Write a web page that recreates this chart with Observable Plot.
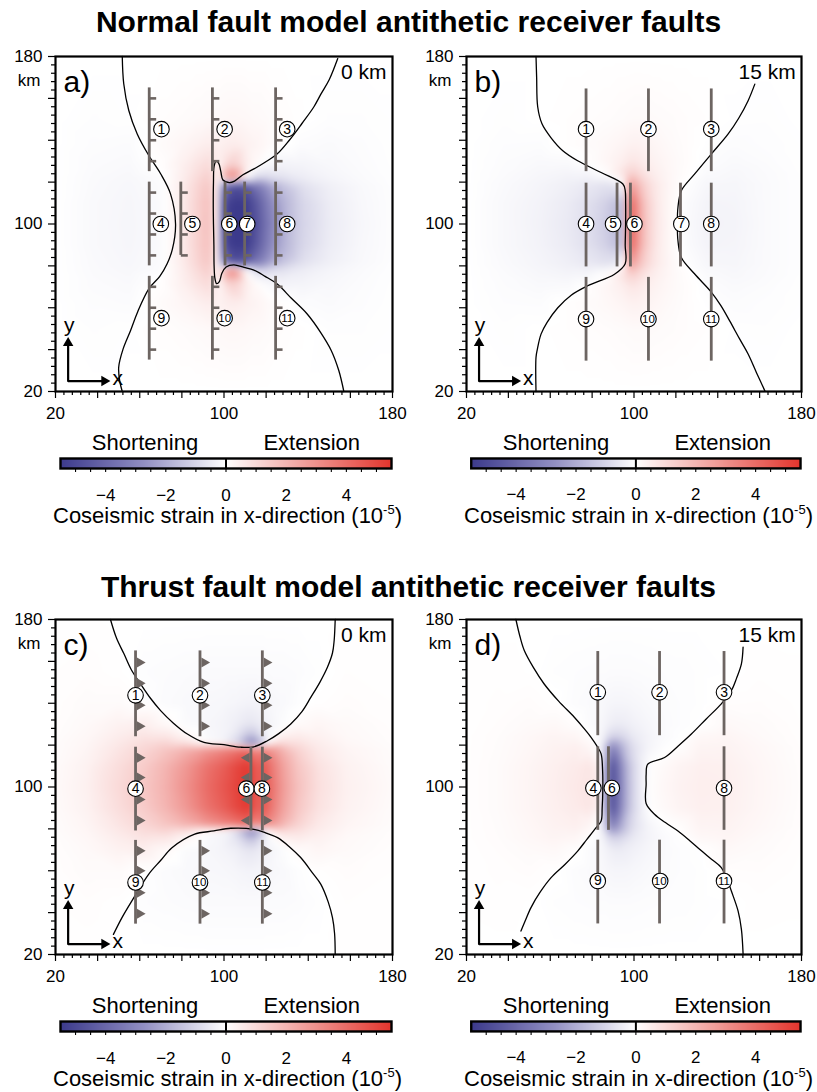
<!DOCTYPE html>
<html>
<head>
<meta charset="utf-8">
<script src="https://cdn.jsdelivr.net/npm/d3@7"></script>
<script src="https://cdn.jsdelivr.net/npm/@observablehq/plot@0.6"></script>
<style>
  html, body { margin: 0; padding: 0; background: #fff; }
  #page { position: relative; width: 817px; height: 1092px; overflow: hidden;
          font-family: "Liberation Sans", Arial, sans-serif; color: #000; }
  .abs { position: absolute; }
  .title { left: 0; width: 817px; text-align: center; font-weight: bold; font-size: 30px; line-height: 30px; }
  .lbl { font-size: 22px; line-height: 22px; white-space: nowrap; transform: translateX(-50%); }
  .lbl sup { font-size: 13px; line-height: 0; vertical-align: 9px; }
</style>
</head>
<body>
<div id="page"></div>
<script>
// ---------- shared axis / legend values ----------
const axisTickLabels = [20, 100, 180];
const colorbarTickLabels = [-4, -2, 0, 2, 4];
const strainDomain = [-5.5, 5.5];

// fault-symbol positions along each row of receiver faults (km)
const teethTop = [160, 150, 140, 130];
const teethMid = [115, 105, 95, 85];
const teethBot = [70, 60, 50, 40];
const thrustTop = [159.5, 149.5, 139, 129];
const thrustMid = [114, 104.5, 94, 84];
const thrustBot = [69.5, 60, 49.5, 39.5];

// ---------- a) normal fault, 0 km ----------
const xsA = [20, 38, 55, 70, 80, 87, 92, 95.5, 97.5, 99.5, 104, 110, 115, 121, 128, 137, 150, 165, 180];
const ysA = [180, 150, 138, 128, 122, 118, 110, 100, 90, 82, 78, 72, 62, 50, 20];
const strainA = [
  [0, 0, 0, 0, 0, 0, 0, 0, 0, 0, 0, 0, 0, 0, 0, 0, 0, 0, 0],
  [0, -0.04, -0.02, 0.06, 0.1, 0.14, 0.17, 0.18, 0.18, 0.2, 0.22, 0.2, 0.16, 0.12, 0.07, 0.02, -0.04, -0.04, -0.02],
  [0, -0.07, -0.09, 0.12, 0.25, 0.38, 0.48, 0.45, 0.3, 0.45, 0.5, 0.4, 0.3, 0.16, 0.05, -0.08, -0.12, -0.07, -0.02],
  [0, -0.1, -0.14, 0.03, 0.4, 0.75, 1.0, 0.7, 0, 0.8, 1.4, 0.6, 0.15, -0.2, -0.32, -0.28, -0.18, -0.09, -0.03],
  [0, -0.12, -0.18, -0.08, 0.45, 0.95, 1.35, 0.85, 0, 1.8, 3.6, 0.4, -0.9, -0.9, -0.7, -0.45, -0.25, -0.12, -0.04],
  [0, -0.13, -0.2, -0.1, 0.5, 1.1, 1.55, 0.95, 0, -3.4, -4.9, -4.6, -3.6, -2.5, -1.5, -0.8, -0.38, -0.16, -0.05],
  [0, -0.15, -0.22, -0.12, 0.5, 1.2, 1.7, 1.05, 0, -4.8, -5.5, -5.5, -4.6, -3.2, -1.9, -1.0, -0.45, -0.18, -0.06],
  [0, -0.15, -0.23, -0.12, 0.5, 1.2, 1.75, 1.05, 0, -5.0, -5.5, -5.5, -4.8, -3.4, -2.0, -1.05, -0.48, -0.2, -0.06],
  [0, -0.15, -0.22, -0.12, 0.5, 1.2, 1.7, 1.05, 0, -4.8, -5.5, -5.5, -4.6, -3.2, -1.9, -1.0, -0.45, -0.18, -0.06],
  [0, -0.13, -0.2, -0.1, 0.5, 1.1, 1.55, 0.95, 0, -3.4, -4.9, -4.6, -3.6, -2.5, -1.5, -0.8, -0.38, -0.16, -0.05],
  [0, -0.12, -0.18, -0.08, 0.45, 0.95, 1.35, 0.85, 0, 1.8, 3.6, 0.4, -0.9, -0.9, -0.7, -0.45, -0.25, -0.12, -0.04],
  [0, -0.1, -0.14, 0.03, 0.4, 0.75, 1.0, 0.7, 0, 0.8, 1.4, 0.6, 0.15, -0.2, -0.32, -0.28, -0.18, -0.09, -0.03],
  [0, -0.07, -0.09, 0.12, 0.25, 0.38, 0.48, 0.45, 0.3, 0.45, 0.5, 0.4, 0.3, 0.16, 0.05, -0.08, -0.12, -0.07, -0.02],
  [0, -0.04, -0.02, 0.06, 0.1, 0.14, 0.17, 0.18, 0.18, 0.2, 0.22, 0.2, 0.16, 0.12, 0.07, 0.02, -0.04, -0.04, -0.02],
  [0, 0, 0, 0, 0, 0, 0, 0, 0, 0, 0, 0, 0, 0, 0, 0, 0, 0, 0]
];
const zeroLineA1 = [[51.7,180],[52.4,167],[54.8,154.2],[58.8,143],[64.3,132.7],[69.9,124],[74.6,114.4],[77,100],[75.5,88],[73,81],[69.5,75],[64.3,69],[59,58],[55.6,49],[52,40],[50,31.6],[50.5,25],[51.7,20]];
const zeroLineA2 = [[154,179],[150,169],[146,162],[142.7,156],[137,148],[131,140],[125.3,133.5],[119.5,129.5],[114.2,126.3],[109,123.5],[105,120.5],[102.5,119.8],[99.5,121],[98.5,125],[97.5,129],[96.3,130],[95.3,127.5],[95,120],[94.9,110],[95,100],[95.2,90],[95.3,80],[95.7,74],[96.5,71.5],[97.8,72.5],[99,76.5],[101,79.5],[104.7,80.5],[109.5,79.3],[114.2,78],[119.5,75],[125.3,71.3],[132,64.5],[139.5,57],[146,48],[150.9,39.6],[154.5,30],[156.9,20]];
const faultsA = [
  {x: 64.5, y1: 125, y2: 165, teeth: teethTop}, {x: 94.5, y1: 125, y2: 165, teeth: teethTop}, {x: 124.5, y1: 125, y2: 165, teeth: teethTop},
  {x: 64.5, y1: 80, y2: 120, teeth: teethMid}, {x: 79.5, y1: 85, y2: 120, teeth: teethMid}, {x: 100.5, y1: 80, y2: 120, teeth: teethMid},
  {x: 109.8, y1: 80, y2: 120, teeth: teethMid}, {x: 124.5, y1: 80, y2: 120, teeth: teethMid},
  {x: 64.5, y1: 35, y2: 75, teeth: teethBot}, {x: 94.5, y1: 35, y2: 75, teeth: teethBot}, {x: 124.5, y1: 35, y2: 75, teeth: teethBot}
];
const labelsA = [
  {n: 1, x: 70.3, y: 145.3}, {n: 2, x: 100.3, y: 145.3}, {n: 3, x: 130, y: 145.3},
  {n: 4, x: 70, y: 100}, {n: 5, x: 85, y: 100}, {n: 6, x: 102.5, y: 100}, {n: 7, x: 111, y: 100}, {n: 8, x: 130, y: 100},
  {n: 9, x: 70.3, y: 55}, {n: 10, x: 100.3, y: 55}, {n: 11, x: 130, y: 55}
];

// ---------- b) normal fault, 15 km ----------
const xsB = [20, 38, 55, 68, 78, 86, 91, 95.2, 96.8, 98.5, 100.5, 103, 107, 112, 118, 125, 135, 148, 165, 180];
const ysB = [180, 150, 138, 130, 124, 119, 110, 100, 90, 81, 76, 70, 62, 50, 20];
const strainB = [
  [0, 0, 0, 0, 0, 0, 0, 0, 0, 0, 0, 0, 0, 0, 0, 0, 0, 0, 0, 0],
  [0, -0.03, 0, 0.04, 0.06, 0.08, 0.1, 0.12, 0.13, 0.14, 0.15, 0.15, 0.14, 0.12, 0.1, 0.07, 0.04, -0.02, -0.03, 0],
  [0, -0.06, -0.07, 0.04, 0.12, 0.18, 0.24, 0.3, 0.33, 0.36, 0.38, 0.36, 0.3, 0.22, 0.14, 0.07, -0.02, -0.08, -0.05, -0.02],
  [0, -0.08, -0.14, -0.12, 0.05, 0.22, 0.35, 0.48, 0.58, 0.66, 0.66, 0.56, 0.42, 0.3, 0.18, 0.08, -0.06, -0.13, -0.07, -0.02],
  [0, -0.1, -0.2, -0.26, -0.24, 0.03, 0.45, 0.85, 1.1, 1.3, 1.2, 0.95, 0.62, 0.38, 0.2, 0.05, -0.12, -0.18, -0.1, -0.03],
  [0, -0.13, -0.25, -0.38, -0.55, -0.7, -0.65, 0.1, 2.0, 2.7, 2.3, 1.6, 0.95, 0.48, 0.2, -0.02, -0.2, -0.22, -0.11, -0.03],
  [0, -0.16, -0.3, -0.48, -0.75, -1.1, -1.5, -1.65, 3.0, 4.3, 3.5, 2.2, 1.15, 0.5, 0.15, -0.1, -0.27, -0.25, -0.11, -0.03],
  [0, -0.16, -0.32, -0.52, -0.8, -1.2, -1.6, -1.8, 3.2, 4.6, 3.7, 2.3, 1.2, 0.52, 0.15, -0.12, -0.3, -0.27, -0.11, -0.03],
  [0, -0.16, -0.3, -0.48, -0.75, -1.1, -1.5, -1.65, 3.0, 4.3, 3.5, 2.2, 1.15, 0.5, 0.15, -0.1, -0.27, -0.25, -0.11, -0.03],
  [0, -0.13, -0.25, -0.38, -0.55, -0.7, -0.65, 0.1, 2.0, 2.7, 2.3, 1.6, 0.95, 0.48, 0.2, -0.02, -0.2, -0.22, -0.11, -0.03],
  [0, -0.1, -0.2, -0.26, -0.24, 0.03, 0.45, 0.85, 1.1, 1.3, 1.2, 0.95, 0.62, 0.38, 0.2, 0.05, -0.12, -0.18, -0.1, -0.03],
  [0, -0.08, -0.14, -0.12, 0.05, 0.22, 0.35, 0.48, 0.58, 0.66, 0.66, 0.56, 0.42, 0.3, 0.18, 0.08, -0.06, -0.13, -0.07, -0.02],
  [0, -0.06, -0.07, 0.04, 0.12, 0.18, 0.24, 0.3, 0.33, 0.36, 0.38, 0.36, 0.3, 0.22, 0.14, 0.07, -0.02, -0.08, -0.05, -0.02],
  [0, -0.03, 0, 0.04, 0.06, 0.08, 0.1, 0.12, 0.13, 0.14, 0.15, 0.15, 0.14, 0.12, 0.1, 0.07, 0.04, -0.02, -0.03, 0],
  [0, 0, 0, 0, 0, 0, 0, 0, 0, 0, 0, 0, 0, 0, 0, 0, 0, 0, 0, 0]
];
const zeroLineB1 = [[53.2,180],[53.5,170],[54,156],[56,148],[60.3,141.3],[66,135],[73.1,130.2],[84.3,124.6],[94.7,119.1],[95.8,116],[96,110],[96,100],[95.8,90],[95.8,81],[90.7,76],[77.9,70.5],[70,66],[63.6,60],[58.5,53],[55.6,47.4],[53.8,40],[53.2,36.3],[53.2,20]];
const zeroLineB2 = [[157.7,166.8],[154.5,158.9],[150,150.5],[144.9,142.9],[136.9,133.4],[129,123.9],[122.6,115.9],[121,108],[120.7,100],[121,92],[122.6,84],[129,76.1],[136.9,67.5],[141.5,61],[145.7,53.7],[150.5,45],[154.5,37.9],[158.5,29],[162.5,20.3]];
const faultsB = [
  {x: 77.1, y1: 125, y2: 164.5, teeth: []}, {x: 106.9, y1: 125, y2: 164.5, teeth: []}, {x: 136.9, y1: 125, y2: 164.5, teeth: []},
  {x: 77.1, y1: 79.5, y2: 119.5, teeth: []}, {x: 91.9, y1: 79.5, y2: 119.5, teeth: []}, {x: 98.3, y1: 79.5, y2: 119.5, teeth: []},
  {x: 122.2, y1: 79.5, y2: 119.5, teeth: []}, {x: 136.9, y1: 79.5, y2: 119.5, teeth: []},
  {x: 77.1, y1: 34.5, y2: 74.5, teeth: []}, {x: 106.9, y1: 34.5, y2: 74.5, teeth: []}, {x: 136.9, y1: 34.5, y2: 74.5, teeth: []}
];
const labelsB = [
  {n: 1, x: 77.1, y: 145.3}, {n: 2, x: 106.9, y: 145.3}, {n: 3, x: 136.9, y: 145.3},
  {n: 4, x: 77.1, y: 100}, {n: 5, x: 90, y: 100}, {n: 6, x: 100.2, y: 100}, {n: 7, x: 122.6, y: 100}, {n: 8, x: 136.9, y: 100},
  {n: 9, x: 77.1, y: 54.6}, {n: 10, x: 106.9, y: 54.6}, {n: 11, x: 136.9, y: 54.6}
];

// ---------- c) thrust fault, 0 km ----------
const xsC = [20, 35, 50, 62, 72, 82, 92, 100, 106, 110, 112.5, 115.5, 118.5, 122, 128, 135, 145, 158, 180];
const ysC = [180, 155, 140, 130, 124, 121, 118, 110, 100, 90, 82, 79, 76, 70, 60, 45, 20];
const strainC = [
  [0.03, 0.02, 0, 0, 0, 0, 0, 0, 0, 0, 0, 0, 0, 0, 0, 0, 0, 0.02, 0.03],
  [0.04, 0.06, 0.02, -0.06, -0.08, -0.1, -0.12, -0.12, -0.12, -0.12, -0.12, -0.12, -0.12, -0.1, -0.1, -0.08, -0.03, 0.04, 0.03],
  [0.05, 0.12, 0.12, -0.03, -0.1, -0.15, -0.18, -0.2, -0.24, -0.28, -0.3, -0.28, -0.24, -0.2, -0.15, -0.05, 0.03, 0.08, 0.04],
  [0.06, 0.17, 0.35, 0.45, 0.15, -0.12, -0.2, -0.28, -0.4, -0.55, -0.62, -0.55, -0.4, -0.25, -0.08, 0.12, 0.25, 0.15, 0.05],
  [0.08, 0.22, 0.5, 0.75, 0.7, 0.25, -0.15, -0.28, -0.65, -1.2, -1.7, -1.3, -0.7, -0.1, 0.45, 0.55, 0.38, 0.18, 0.07],
  [0.1, 0.25, 0.6, 0.95, 1.15, 0.8, -0.05, -0.25, -1.1, -2.4, -3.6, -3.0, -1.5, 0.3, 1.0, 0.85, 0.48, 0.22, 0.08],
  [0.1, 0.28, 0.7, 1.1, 1.55, 2.1, 2.8, 3.3, 3.7, 4.0, 3.8, 3.0, 3.6, 2.9, 2.0, 1.2, 0.58, 0.28, 0.1],
  [0.13, 0.36, 0.9, 1.4, 2.0, 2.8, 3.8, 4.4, 5.0, 5.3, 5.4, 4.1, 4.7, 3.8, 2.55, 1.55, 0.78, 0.36, 0.12],
  [0.15, 0.4, 1.0, 1.5, 2.1, 3.0, 4.0, 4.6, 5.1, 5.4, 5.5, 4.2, 4.8, 4.0, 2.7, 1.7, 0.85, 0.4, 0.15],
  [0.13, 0.36, 0.9, 1.4, 2.0, 2.8, 3.8, 4.4, 5.0, 5.3, 5.4, 4.1, 4.7, 3.8, 2.55, 1.55, 0.78, 0.36, 0.12],
  [0.1, 0.28, 0.7, 1.1, 1.55, 2.1, 2.8, 3.3, 3.7, 4.0, 3.8, 3.0, 3.6, 2.9, 2.0, 1.2, 0.58, 0.28, 0.1],
  [0.1, 0.25, 0.6, 0.95, 1.15, 0.8, -0.05, -0.25, -1.1, -2.4, -3.6, -3.0, -1.5, 0.3, 1.0, 0.85, 0.48, 0.22, 0.08],
  [0.08, 0.22, 0.5, 0.75, 0.7, 0.25, -0.15, -0.28, -0.65, -1.2, -1.7, -1.3, -0.7, -0.1, 0.45, 0.55, 0.38, 0.18, 0.07],
  [0.06, 0.17, 0.35, 0.45, 0.15, -0.12, -0.2, -0.28, -0.4, -0.55, -0.62, -0.55, -0.4, -0.25, -0.08, 0.12, 0.25, 0.15, 0.05],
  [0.05, 0.12, 0.12, -0.03, -0.1, -0.15, -0.18, -0.2, -0.24, -0.28, -0.3, -0.28, -0.24, -0.2, -0.15, -0.05, 0.03, 0.08, 0.04],
  [0.04, 0.06, 0.02, -0.06, -0.08, -0.1, -0.12, -0.12, -0.12, -0.12, -0.12, -0.12, -0.12, -0.1, -0.1, -0.08, -0.03, 0.04, 0.03],
  [0.03, 0.02, 0, 0, 0, 0, 0, 0, 0, 0, 0, 0, 0, 0, 0, 0, 0, 0.02, 0.03]
];
const zeroLineC1 = [[46.1,180],[49,171],[52.5,163.6],[56,156],[60.4,149.2],[65,142.5],[69.9,136.5],[76,130.5],[82.6,125.3],[90.5,121.3],[100,120.2],[107.9,119],[114.2,119.2],[120.6,122.1],[126,125.5],[131.7,130.1],[137,136],[141.2,142.8],[145.5,150],[149.1,157.2],[151.5,164],[152.3,170],[152.8,180]];
const zeroLineC2 = [[47.5,29.6],[51.5,37.5],[56.2,45.5],[64.2,58.3],[70,65],[75.3,71],[85.8,77.4],[95.2,79],[103.2,80.3],[114.2,79.8],[120,78],[125.4,75.8],[131,71.5],[136.4,66.3],[142,59],[146,53.5],[149.5,45],[151.5,37.6],[152.5,30],[152.8,20]];
const faultsC = [
  {x: 58, y1: 124, y2: 165, teeth: thrustTop, side: 1}, {x: 88.6, y1: 124, y2: 165, teeth: thrustTop, side: 1}, {x: 118.2, y1: 124, y2: 165, teeth: thrustTop, side: 1},
  {x: 58, y1: 79, y2: 119, teeth: thrustMid, side: 1}, {x: 112.8, y1: 79, y2: 119, teeth: thrustMid, side: -1}, {x: 118.2, y1: 79, y2: 119, teeth: thrustMid, side: 1},
  {x: 58, y1: 34.5, y2: 74.5, teeth: thrustBot, side: 1}, {x: 88.6, y1: 34.5, y2: 74.5, teeth: thrustBot, side: 1}, {x: 118.2, y1: 34.5, y2: 74.5, teeth: thrustBot, side: 1}
];
const labelsC = [
  {n: 1, x: 58, y: 143.8}, {n: 2, x: 88.6, y: 143.8}, {n: 3, x: 118.2, y: 143.8},
  {n: 4, x: 58, y: 99.2}, {n: 6, x: 110.6, y: 99.2}, {n: 8, x: 118, y: 99.2},
  {n: 9, x: 58, y: 54.4}, {n: 10, x: 88.6, y: 54.4}, {n: 11, x: 118.2, y: 54.4}
];

// ---------- d) thrust fault, 15 km ----------
const xsD = [20, 35, 50, 62, 72, 79, 84, 86.5, 88.5, 91, 94, 98, 103, 108, 114, 122, 132, 145, 160, 180];
const ysD = [180, 155, 140, 130, 124, 119, 110, 100, 90, 81, 76, 70, 60, 45, 20];
const strainD = [
  [0, 0, 0, 0, 0, 0, 0, 0, 0, 0, 0, 0, 0, 0, 0, 0, 0, 0, 0, 0],
  [0.02, 0.03, 0.01, -0.04, -0.06, -0.07, -0.08, -0.08, -0.09, -0.09, -0.09, -0.09, -0.08, -0.07, -0.06, -0.05, -0.03, -0.01, 0.03, 0.02],
  [0.02, 0.05, 0.08, 0.02, -0.08, -0.12, -0.16, -0.2, -0.22, -0.24, -0.24, -0.22, -0.18, -0.14, -0.1, -0.06, -0.03, 0.06, 0.07, 0.03],
  [0.02, 0.07, 0.14, 0.18, 0.05, -0.1, -0.18, -0.28, -0.4, -0.45, -0.45, -0.38, -0.28, -0.2, -0.12, -0.06, -0.01, 0.18, 0.12, 0.04],
  [0.03, 0.09, 0.2, 0.3, 0.25, 0.02, -0.2, -0.55, -1.0, -1.1, -0.95, -0.65, -0.4, -0.25, -0.12, -0.02, 0.2, 0.27, 0.15, 0.05],
  [0.03, 0.1, 0.22, 0.35, 0.42, 0.25, -0.25, -1.4, -3.0, -2.8, -1.9, -1.0, -0.5, -0.22, -0.06, 0.05, 0.3, 0.32, 0.2, 0.06],
  [0.03, 0.12, 0.27, 0.42, 0.55, 0.68, 0.35, -2.2, -4.7, -4.4, -2.8, -1.35, -0.45, 0.03, 0.15, 0.3, 0.42, 0.4, 0.24, 0.07],
  [0.03, 0.12, 0.28, 0.45, 0.6, 0.72, 0.4, -2.3, -4.9, -4.6, -2.9, -1.4, -0.42, 0.05, 0.2, 0.35, 0.45, 0.42, 0.25, 0.08],
  [0.03, 0.12, 0.27, 0.42, 0.55, 0.68, 0.35, -2.2, -4.7, -4.4, -2.8, -1.35, -0.45, 0.03, 0.15, 0.3, 0.42, 0.4, 0.24, 0.07],
  [0.03, 0.1, 0.22, 0.35, 0.42, 0.25, -0.25, -1.4, -3.0, -2.8, -1.9, -1.0, -0.5, -0.22, -0.06, 0.05, 0.3, 0.32, 0.2, 0.06],
  [0.03, 0.09, 0.2, 0.3, 0.25, 0.02, -0.2, -0.55, -1.0, -1.1, -0.95, -0.65, -0.4, -0.25, -0.12, -0.02, 0.2, 0.27, 0.15, 0.05],
  [0.02, 0.07, 0.14, 0.18, 0.05, -0.1, -0.18, -0.28, -0.4, -0.45, -0.45, -0.38, -0.28, -0.2, -0.12, -0.06, -0.01, 0.18, 0.12, 0.04],
  [0.02, 0.05, 0.08, 0.02, -0.08, -0.12, -0.16, -0.2, -0.22, -0.24, -0.24, -0.22, -0.18, -0.14, -0.1, -0.06, -0.03, 0.06, 0.07, 0.03],
  [0.02, 0.03, 0.01, -0.04, -0.06, -0.07, -0.08, -0.08, -0.09, -0.09, -0.09, -0.09, -0.08, -0.07, -0.06, -0.05, -0.03, -0.01, 0.03, 0.02],
  [0, 0, 0, 0, 0, 0, 0, 0, 0, 0, 0, 0, 0, 0, 0, 0, 0, 0, 0, 0]
];
const zeroLineD1 = [[43.6,180],[45.5,172],[47.6,165.2],[52,157],[57.1,149.2],[64,141],[71.5,133.3],[76.5,127.5],[79.5,123.7],[82.7,118.9],[84.3,115.8],[85,108],[85.1,98.1],[84.8,90],[84.3,83.8],[81.9,80.6],[77.5,75],[73.1,69.4],[67,63],[60.4,56.7],[55,49.5],[50.8,42.4],[48,36],[46,31.2]];
const zeroLineD2 = [[152.1,166.8],[151.3,158.8],[149,152],[146.5,146],[141.7,139.7],[134.5,132.5],[127.4,125.3],[121,119.5],[114.6,114.1],[106.6,110.9],[105.8,106],[105.8,101.4],[105.8,92.1],[109.8,87],[115,83],[121,79],[126.5,74.5],[132.2,69.5],[137,65.5],[141.7,61.5],[144.5,56],[146.5,50.3],[149.7,40.8],[151.3,32],[152.1,20.3]];
const faultsD = [
  {x: 82.7, y1: 124.5, y2: 164.7, teeth: []}, {x: 112.2, y1: 124.5, y2: 164.7, teeth: []}, {x: 143, y1: 124.5, y2: 164.7, teeth: []},
  {x: 82.7, y1: 79.3, y2: 119.2, teeth: []}, {x: 87.8, y1: 79.3, y2: 119.2, teeth: []}, {x: 143, y1: 79.3, y2: 119.2, teeth: []},
  {x: 82.7, y1: 34.6, y2: 74.6, teeth: []}, {x: 112.2, y1: 34.6, y2: 74.6, teeth: []}, {x: 143, y1: 34.6, y2: 74.6, teeth: []}
];
const labelsD = [
  {n: 1, x: 82.7, y: 145.2}, {n: 2, x: 112.2, y: 145.2}, {n: 3, x: 143, y: 145.2},
  {n: 4, x: 80.6, y: 99.5}, {n: 6, x: 89.4, y: 99.5}, {n: 8, x: 143, y: 99.5},
  {n: 9, x: 82.7, y: 55.1}, {n: 10, x: 112.5, y: 55.1}, {n: 11, x: 143, y: 55.1}
];

// ---------- styling ----------
const faultColor = "#6d6562";
const colorScale = {
  type: "linear",
  domain: [-5.5, -2.75, 0, 2.75, 5.5],
  range: ["#3c3a8c", "#918ec2", "#ffffff", "#f09a96", "#e3352d"],
  clamp: true
};
const fontFamily = '"Liberation Sans", Arial, sans-serif';
const page = document.getElementById("page");

function place(node, left, top) {
  const d = document.createElement("div");
  d.className = "abs";
  d.style.left = left + "px";
  d.style.top = top + "px";
  d.appendChild(node);
  page.appendChild(d);
}
function htmlText(cls, left, top, inner) {
  const d = document.createElement("div");
  d.className = "abs " + cls;
  d.style.left = left + "px";
  d.style.top = top + "px";
  d.innerHTML = inner;
  page.appendChild(d);
}

const majorTicks = d3.range(20, 181, 20);
const minorTicks = d3.range(20, 181, 4).filter(v => (v - 20) % 20 !== 0);

function panel(p) {
  const field = p.ys.flatMap((y, i) => p.xs.map((x, j) => ({x, y, v: p.grid[i][j]})));
  const teeth = p.faults.flatMap(f => f.teeth.map(y => ({x: f.x, y, side: f.side ?? 1})));
  const marks = [
    Plot.raster(field, {x: "x", y: "y", fill: "v", x1: 20, x2: 180, y1: 20, y2: 180,
                        interpolate: "barycentric", blur: 3}),
    ...p.curves.map(c => Plot.line(c, {x: d => d[0], y: d => d[1], stroke: "black",
                                       strokeWidth: 1.3, curve: "catmull-rom"})),
    Plot.ruleX(p.faults, {x: "x", y1: "y1", y2: "y2", stroke: faultColor, strokeWidth: 2.8})
  ];
  if (p.kind === "normal") {
    marks.push(Plot.link(teeth, {x1: "x", y1: "y", x2: d => d.x + 3.3, y2: "y",
                                 stroke: faultColor, strokeWidth: 2.6}));
  } else {
    marks.push(Plot.dot(teeth.filter(t => t.side > 0), {x: "x", y: "y", symbol: "triangle2", r: 4.8,
                                                       fill: faultColor, rotate: 90, dx: 4.3}));
    marks.push(Plot.dot(teeth.filter(t => t.side < 0), {x: "x", y: "y", symbol: "triangle2", r: 4.8,
                                                       fill: faultColor, rotate: -90, dx: -4.3}));
  }
  marks.push(
    Plot.dot(p.labels, {x: "x", y: "y", r: 7.8, fill: "white", stroke: "black", strokeWidth: 1.1}),
    Plot.text(p.labels, {x: "x", y: "y", text: d => String(d.n), fill: "black",
                         fontSize: d => d.n >= 10 ? 11.5 : 14}),
    // panel letter and depth
    Plot.text([p.tag], {x: 23.8, y: 167.5, text: d => d, textAnchor: "start", fontSize: 30}),
    Plot.text([p.depth], {x: 177.2, y: 172.3, text: d => d, textAnchor: "end", fontSize: 21}),
    // coordinate arrows
    Plot.line([[26, 42.5], [26, 25], [42.5, 25]], {x: d => d[0], y: d => d[1], stroke: "black", strokeWidth: 2.2}),
    Plot.dot([[26, 43.2]], {x: d => d[0], y: d => d[1], symbol: "triangle2", r: 5, fill: "black"}),
    Plot.dot([[43.2, 25]], {x: d => d[0], y: d => d[1], symbol: "triangle2", r: 5, fill: "black", rotate: 90}),
    Plot.text(["y"], {x: 26.5, y: 51.5, text: d => d, fontSize: 21}),
    Plot.text(["x"], {x: 49.5, y: 26.3, text: d => d, fontSize: 21}),
    // axes
    Plot.axisX({ticks: majorTicks, tickSize: 7, tickPadding: 8, strokeWidth: 1.2, label: null, fontSize: 17,
                tickFormat: d => axisTickLabels.includes(d) ? String(d) : ""}),
    Plot.axisX({ticks: minorTicks, tickSize: 4, strokeWidth: 1.2, label: null, tickFormat: () => ""}),
    Plot.axisY({ticks: majorTicks, tickSize: 7, tickPadding: 6, strokeWidth: 1.2, label: null, fontSize: 17,
                tickFormat: d => axisTickLabels.includes(d) ? String(d) : ""}),
    Plot.axisY({ticks: minorTicks, tickSize: 4, strokeWidth: 1.2, label: null, tickFormat: () => ""}),
    Plot.text(["km"], {x: 20, y: 168.5, text: d => d, textAnchor: "end", dx: -15, fontSize: 17}),
    Plot.frame({stroke: "black", strokeWidth: 2.2})
  );
  return Plot.plot({
    width: p.width, height: 381,
    marginLeft: p.marginLeft, marginRight: 16, marginTop: 16, marginBottom: 30,
    x: {domain: [20, 180]},
    y: {domain: [20, 180]},
    color: colorScale,
    style: {fontFamily, fontSize: "17px", color: "black", background: "transparent", overflow: "visible"},
    marks
  });
}

function colorbar() {
  const barTicks = d3.range(-5, 5.01, 0.5);
  return Plot.plot({
    width: 408, height: 58, marginLeft: 60, marginRight: 17, marginTop: 6, marginBottom: 42,
    x: {domain: strainDomain},
    y: {domain: [0, 1], axis: null},
    color: colorScale,
    style: {fontFamily, fontSize: "17px", color: "black", background: "transparent", overflow: "visible"},
    marks: [
      Plot.raster({fill: (x, y) => x, x1: strainDomain[0], x2: strainDomain[1], y1: 0, y2: 1}),
      Plot.ruleX([0], {y1: 0, y2: 1, stroke: "black", strokeWidth: 2}),
      Plot.frame({stroke: "black", strokeWidth: 2.4}),
      Plot.axisX({ticks: barTicks, tickSize: 4, tickPadding: 16, strokeWidth: 1.1, label: null, fontSize: 17,
                  tickFormat: d => colorbarTickLabels.includes(d) ? (d < 0 ? "\u2212" + (-d) : String(d)) : ""})
    ]
  });
}

// ---------- layout ----------
htmlText("title", 0, 6.6, "Normal fault model antithetic receiver faults");
htmlText("title", 0, 571.6, "Thrust fault model antithetic receiver faults");

place(panel({xs: xsA, ys: ysA, grid: strainA, curves: [zeroLineA1, zeroLineA2], faults: faultsA, labels: labelsA,
             kind: "normal", tag: "a)", depth: "0 km", width: 408, marginLeft: 55}), 0, 40);
place(panel({xs: xsB, ys: ysB, grid: strainB, curves: [zeroLineB1, zeroLineB2], faults: faultsB, labels: labelsB,
             kind: "normal", tag: "b)", depth: "15 km", width: 409, marginLeft: 58}), 408, 40);
place(panel({xs: xsC, ys: ysC, grid: strainC, curves: [zeroLineC1, zeroLineC2], faults: faultsC, labels: labelsC,
             kind: "thrust", tag: "c)", depth: "0 km", width: 408, marginLeft: 55}), 0, 603);
place(panel({xs: xsD, ys: ysD, grid: strainD, curves: [zeroLineD1, zeroLineD2], faults: faultsD, labels: labelsD,
             kind: "thrust", tag: "d)", depth: "15 km", width: 409, marginLeft: 58}), 408, 603);

const caption = "Coseismic strain in x-direction (10<sup>-5</sup>)";
[[0, 0], [411, 0], [0, 563], [411, 563]].forEach(([dx, dy]) => {
  place(colorbar(), dx, 452 + dy);
  htmlText("lbl", 145 + dx, 431.6 + dy, "Shortening");
  htmlText("lbl", 311.7 + dx, 431.6 + dy, "Extension");
  htmlText("lbl", 227.5 + dx, 504.6 + dy, caption);
});
</script>
</body>
</html>
